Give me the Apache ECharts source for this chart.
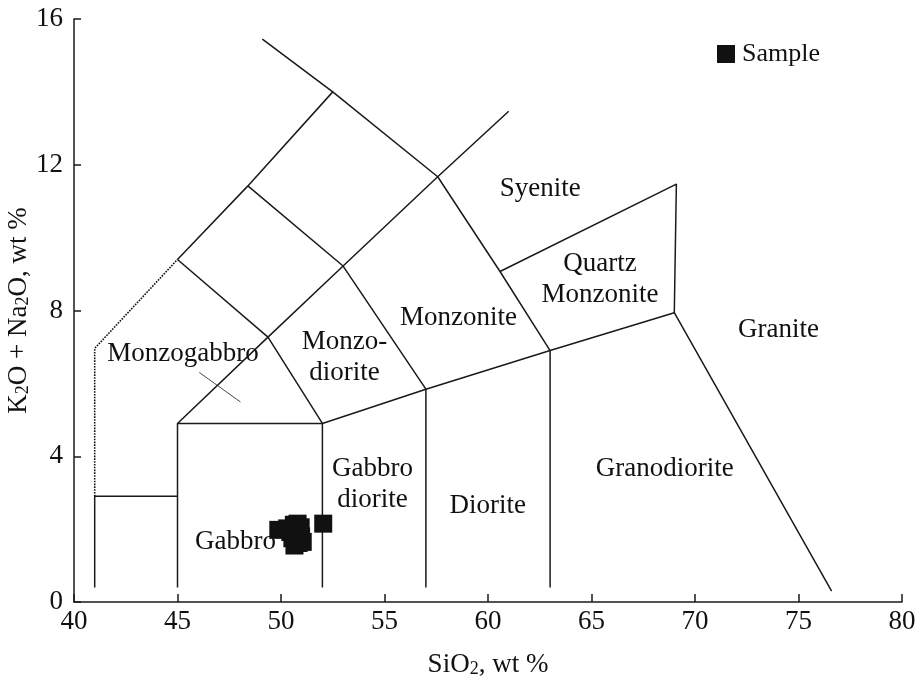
<!DOCTYPE html>
<html>
<head>
<meta charset="utf-8">
<script src="https://cdn.jsdelivr.net/npm/echarts@6/dist/echarts.min.js"></script>
<style>
html,body{margin:0;padding:0;background:#fff;}
#chart{width:915px;height:682px;}
</style>
</head>
<body>
<div id="chart"></div>
<script>
// ---- data ----
const xTicks = [40, 45, 50, 55, 60, 65, 70, 75, 80];
const yTicks = [0, 4, 8, 12, 16];

// sample points [SiO2, K2O+Na2O]
const samples = [
  [49.87, 1.98], [50.30, 2.02], [50.45, 1.92], [50.62, 2.12], [50.80, 2.15],
  [50.95, 2.05], [50.55, 1.75], [50.97, 1.80], [51.05, 1.65], [50.65, 1.55],
  [50.85, 1.62], [52.04, 2.15]
];

// field boundaries (solid polylines)
const boundary1 = [[41, 0.4], [41, 2.9], [45, 2.9]];
const boundary2 = [[45, 0.4], [45, 4.9], [52, 4.9], [52, 0.4]];
const boundary3 = [[45, 4.9], [49.37, 7.27], [53.0, 9.22], [57.57, 11.67], [61.0, 13.47]];
const boundary4 = [[45, 9.4], [48.4, 11.42], [52.5, 14.0]];
const boundary5 = [[49.1, 15.45], [52.5, 14.0], [57.57, 11.67], [60.58, 9.07], [63, 6.9]];
const boundary6 = [[45, 9.4], [49.37, 7.27], [52, 4.9]];
const boundary7 = [[48.4, 11.42], [53.0, 9.22], [57, 5.84]];
const boundary8 = [[52, 4.9], [57, 5.84], [63, 6.9], [69, 7.94]];
const boundary9 = [[57, 5.84], [57, 0.4]];
const boundary10 = [[63, 6.9], [63, 0.4]];
const boundary11 = [[60.58, 9.07], [69.1, 11.47], [69, 7.94], [76.6, 0.3]];
// dotted boundary
const boundaryDotted = [[41, 2.9], [41, 6.96], [45, 9.4]];
// Monzogabbro pointer
const pointerLine = [[46.05, 6.3], [48.04, 5.49]];

// field names and positions
const fieldNames = ['Syenite', 'Quartz\nMonzonite', 'Monzonite', 'Granite', 'Monzo-\ndiorite',
  'Monzogabbro', 'Gabbro\ndiorite', 'Diorite', 'Granodiorite', 'Gabbro'];
const fieldPos = [[62.52, 11.33], [65.41, 8.85], [58.58, 7.81], [74.03, 7.46], [53.07, 6.71],
  [45.27, 6.82], [54.42, 3.22], [59.99, 2.64], [68.54, 3.65], [47.8, 1.64]];

// ---- chart ----
const FONT = '"Liberation Serif", "DejaVu Serif", serif';
const LINE_COLOR = '#1a1a1a';
const TEXT_COLOR = '#111';
const FS = 27;
const solidLines = [boundary1, boundary2, boundary3, boundary4, boundary5, boundary6,
  boundary7, boundary8, boundary9, boundary10, boundary11];

const series = [];
solidLines.forEach((pts, i) => {
  series.push({
    name: 'b' + i, type: 'line', data: pts, symbol: 'none', silent: true,
    lineStyle: { color: LINE_COLOR, width: 1.5 }, z: 2, animation: false
  });
});
series.push({
  name: 'dotted', type: 'line', data: boundaryDotted, symbol: 'none', silent: true,
  lineStyle: { color: '#111', width: 1.6, type: [1.6, 1.2] }, z: 2, animation: false
});
series.push({
  name: 'pointer', type: 'line', data: pointerLine, symbol: 'none', silent: true,
  lineStyle: { color: LINE_COLOR, width: 0.8 }, z: 2, animation: false
});
series.push({
  name: 'labels', type: 'scatter', symbolSize: 0, silent: true, animation: false,
  itemStyle: { opacity: 1 },
  data: fieldPos.map((p, i) => ({ value: p, name: fieldNames[i] })),
  label: {
    show: true, position: 'inside', formatter: p => p.name,
    fontFamily: FONT, fontSize: FS, color: TEXT_COLOR, lineHeight: 31, align: 'center'
  }
});
series.push({
  name: 'Sample', type: 'scatter', data: samples, symbol: 'rect', symbolSize: 18,
  itemStyle: { color: '#111', opacity: 1 }, z: 5, animation: false
});

const rich = {
  n: { fontFamily: FONT, fontSize: FS, color: TEXT_COLOR, lineHeight: 32, verticalAlign: 'bottom' },
  s: { fontFamily: FONT, fontSize: 18, color: TEXT_COLOR, lineHeight: 14, verticalAlign: 'bottom' }
};

const chart = echarts.init(document.getElementById('chart'), null, { renderer: 'canvas' });
chart.setOption({
  animation: false,
  backgroundColor: '#fff',
  grid: { left: 74, right: 13, top: 19, bottom: 80, containLabel: false, outerBoundsMode: 'none' },
  legend: {
    data: [{ name: 'Sample', icon: 'rect', itemStyle: { color: '#111', opacity: 1 } }],
    left: 717, top: 40, padding: 0, itemWidth: 18, itemHeight: 18, itemGap: 6,
    textStyle: { fontFamily: FONT, fontSize: 26, color: TEXT_COLOR, lineHeight: 28, padding: [0, 0, 0, 2] },
    selectedMode: false
  },
  xAxis: {
    type: 'value', min: 40, max: 80, interval: 5,
    axisLine: { onZero: false, lineStyle: { color: LINE_COLOR, width: 1.5 } },
    axisTick: { inside: true, length: 8, lineStyle: { color: LINE_COLOR, width: 1.5 } },
    axisLabel: { fontFamily: FONT, fontSize: FS, color: TEXT_COLOR, margin: 6 },
    splitLine: { show: false },
    name: '{n|SiO}{s|2}{n|, wt %}',
    nameLocation: 'middle', nameGap: 44, nameMoveOverlap: false,
    nameTextStyle: { rich: rich }
  },
  yAxis: {
    type: 'value', min: 0, max: 16, interval: 4,
    axisLine: { onZero: false, lineStyle: { color: LINE_COLOR, width: 1.5 } },
    axisTick: { inside: true, length: 7, lineStyle: { color: LINE_COLOR, width: 1.5 } },
    axisLabel: { fontFamily: FONT, fontSize: FS, color: TEXT_COLOR, margin: 11 },
    splitLine: { show: false },
    name: '{n|K}{s|2}{n|O + Na}{s|2}{n|O, wt %}',
    nameLocation: 'middle', nameGap: 42, nameRotate: 90, nameMoveOverlap: false,
    nameTextStyle: { rich: rich }
  },
  series: series
});
</script>
</body>
</html>
